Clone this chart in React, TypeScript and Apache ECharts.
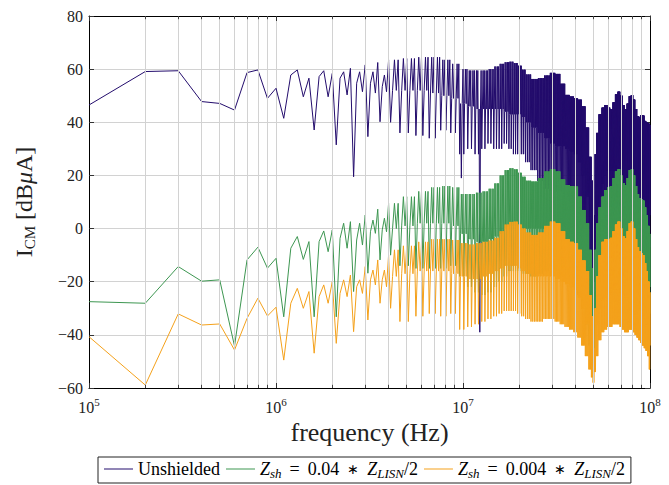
import React, { useEffect, useRef } from 'react';
import * as echarts from 'echarts';

const FONT = '"Liberation Serif", "Times New Roman", serif';
const NAVY = '#230c6c';
const GREEN = '#3d9651';
const ORANGE = '#f4a11b';
const GRID = '#d2d2d2';

// Individually read points, f = 0.1 MHz ... 4.0 MHz (step 0.1 MHz)
const navyLow = [46.5, 59.1, 59.4, 47.8, 47.1, 44.6, 58.7, 59.7, 49.0, 52.8,
  41.5, 57.8, 59.7, 49.6, 56.6, 37.1, 57.2, 59.4, 49.6, 58.4,
  31.5, 56.6, 59.0, 50.3, 60.3, 19.5, 54.7, 59.0, 51.5, 61.6,
  34.6, 54.7, 59.0, 51.0, 62.5, 40.2, 53.4, 57.8, 51.5, 63.5];
const greenLow = [-27.5, -28.1, -14.3, -19.8, -19.3, -44.2, -11.8, -7.0, -14.9, -11.2,
  -33.2, -7.4, -3.0, -11.6, -4.9, -33.2, -4.9, -0.9, -8.7, -0.5,
  -33.2, -3.7, 2.0, -7.4, 2.6, -23.7, -4.3, 2.0, -6.2, 5.1,
  -16.8, -1.2, 3.2, -1.8, 7.3, -11.8, -0.5, 3.9, -1.2, 9.5];
const orangeLow = [-40.7, -58.9, -32.1, -36.3, -35.9, -45.7, -33.8, -26.2, -32.9, -29.6,
  -49.5, -28.1, -22.5, -30.0, -23.7, -46.9, -25.6, -21.2, -28.1, -20.0,
  -43.2, -24.4, -19.3, -25.6, -17.5, -38.8, -21.9, -19.3, -24.4, -14.3,
  -34.4, -19.3, -15.6, -21.2, -11.8, -28.1, -19.3, -15.6, -21.9, -9.9];

// Dense region (> 4 MHz): envelope values read at these frequencies (MHz)
const bpMHz = [4, 5, 6, 7, 8, 9, 10, 11, 12, 13, 14, 15, 16, 17, 18, 19, 20, 21, 22,
  24, 26, 28, 30, 32, 34, 36, 38, 40, 42, 44, 46, 48,
  49, 50, 51, 52,
  54, 56, 58, 60, 62, 64, 66, 68, 70, 72, 74, 76, 78, 80, 82, 84, 86, 88, 90, 92, 94, 96, 98, 100];

const navyUpper = [63.5, 64, 64.5, 64.5, 63.5, 62, 60, 59.5, 59.5, 59.5, 60, 61, 62, 62.6, 62.8, 62.3, 61.3, 59.8, 58,
  56.3, 56.6, 57.6, 58.6, 58.2, 54.5, 50.3, 49.7, 49, 48.5, 46, 38, 27,
  18, 5, 28, 36,
  43, 45.5, 46.5, 45.5, 45, 47.5, 50.5, 51.5, 50, 46.5, 44.8, 47, 49.8, 50.2, 48.5, 45, 42.3, 42, 42.7, 42.5, 40.5, 40, 39.5, 39];
const navyLower = [52, 52, 52, 51, 50, 49, 47, 46, 45, 45, 45, 45, 45, 44, 43, 43, 43, 42, 40,
  38, 36, 34, 32, 31, 31, 30, 29, 28, 25, 20, 12, 0,
  -10, -20, -5, 5,
  12, 17, 20, 22, 22, 22, 22, 23, 22, 20, 19, 20, 21, 20, 18, 16, 14, 13, 13, 12, 12, 10, 8, 5];
const navyDip = [40, 36, 35, 34, 37, 36, 28, 30, 28, 30, 32, 30, 30, 32, 30, 28, 28, 28, 25,
  22, 18, 15, 14, 14, 14, 12, 10, 8, 5, 0, -8, -18,
  -25, -32, -20, -5,
  2, 5, 8, 10, 10, 10, 12, 12, 10, 8, 8, 8, 9, 8, 5, 3, 2, 0, 0, -2, -3, -5, -6, -7];
const navySpikes: [number, number][] = [[98, 19], [123, -39]];

const greenUpper = [9.5, 12, 14, 15.5, 16, 15.5, 13, 13, 13.5, 14, 15, 17, 20, 22, 22.7, 22.3, 21, 19.5, 18,
  17.7, 19, 21.5, 22.3, 21.5, 18.5, 16.4, 16, 15.8, 12, 7, 2, -8,
  -15, -24, -8, 2,
  8, 12, 14.5, 15.5, 16, 19, 21.5, 22.3, 20, 17, 16.4, 19, 22, 22.3, 20, 16, 13, 11.5, 11, 10.5, 8, 5, 1, -2];
const greenLower = [0, 1, 2, 2, 2, 1, -2, -4, -5, -5, -4, -3, -2, 0, 1, 1, 1, 0, 0,
  0, 0, 0, 0, -1, -3, -4, -5, -6, -9, -14, -20, -28,
  -33, -40, -30, -20,
  -12, -8, -6, -5, -5, -5, -4, -4, -5, -7, -8, -8, -7, -7, -8, -10, -12, -13, -14, -15, -16, -18, -20, -22];
const greenDip = [-10, -14, -15, -15, -15, -14, -18, -22, -24, -25, -24, -22, -20, -18, -16, -16, -16, -17, -17,
  -18, -17, -16, -15, -16, -18, -19, -20, -22, -25, -30, -36, -44,
  -48, -52, -45, -35,
  -28, -24, -22, -20, -20, -19, -18, -18, -19, -21, -22, -22, -21, -21, -22, -24, -25, -26, -27, -28, -29, -30, -31, -32];
const greenSpikes: [number, number][] = [];

const orangeUpper = [-8, -6.5, -5, -4, -4, -4.3, -5.5, -6, -5.5, -5, -4.5, -3.5, -1, 1.5, 2.5, 2.6, 1.5, 0, -1.5,
  -2.4, -1.5, 1, 2.6, 2, -1, -4, -5, -5.5, -8, -12, -16, -25,
  -33, -45, -30, -18,
  -10, -5, -4, -4, -3.5, -1, 1.5, 2.6, 0, -3, -3.7, -1, 2, 2.6, 0, -4, -7, -8.5, -9.3, -10, -13, -16, -20, -24];
const orangeLower = [-18, -17, -16, -16, -16, -17, -18, -19, -19, -18, -17, -16, -15, -14, -14, -14, -15, -16, -17,
  -18, -18, -18, -18, -19, -20, -21, -22, -23, -26, -30, -36, -42,
  -48, -52, -45, -36,
  -30, -27, -26, -25, -24, -23, -23, -23, -24, -25, -26, -26, -25, -25, -26, -28, -29, -30, -31, -32, -34, -36, -40, -44];
const orangeDip = [-30, -35, -33, -32, -33, -32, -38, -37, -36, -35, -34, -33, -32, -31, -31, -31, -32, -33, -34,
  -35, -35, -34, -34, -35, -36, -37, -38, -39, -41, -44, -48, -53,
  -56, -58, -54, -48,
  -42, -39, -38, -37, -37, -36, -36, -36, -37, -38, -39, -39, -38, -38, -39, -40, -41, -42, -43, -44, -45, -46, -48, -53];
const orangeSpikes: [number, number][] = [];

const yTicks = [-60, -40, -20, 0, 20, 40, 60, 80];
const decades = [1e5, 1e6, 1e7];
const minorMult = [2, 3, 4, 5, 6, 7, 8, 9];

const seriesNames = ['Unshielded', 'Zsh = 0.04*ZLISN/2', 'Zsh = 0.004*ZLISN/2'];

function buildSeries(explicit: number[], upper: number[], lower: number[], dip: number[], spikes: [number, number][]) {
  const pts: [number, number][] = [];
  for (let i = 1; i <= 1000; i++) {
    const f = i * 1e5;
    let v: number;
    if (i <= explicit.length) {
      v = explicit[i - 1];
    } else {
      const mhz = i / 10;
      let k = 0;
      let best = Infinity;
      bpMHz.forEach((b, j) => {
        const d = Math.abs(b - mhz);
        if (d < best) { best = d; k = j; }
      });
      const phase = i % 5;
      v = phase === 1 ? dip[k] : (phase === 0 || phase === 3) ? upper[k] : lower[k];
    }
    pts.push([f, v]);
  }
  spikes.forEach(([i, v]) => { pts[i - 1] = [i * 1e5, v]; });
  return pts;
}

export default function App() {
  const ref = useRef<HTMLDivElement>(null);
  useEffect(() => {
    if (!ref.current) return;
    const chart = echarts.init(ref.current, undefined, { renderer: 'svg' });
    const minorX: number[] = [];
    decades.forEach((d) => minorMult.forEach((m) => minorX.push(d * m)));
    const yMin = yTicks[0];
    const yMax = yTicks[yTicks.length - 1];
    const tickLen = 1.2;
    const tickData: any[] = [];
    minorX.forEach((v) => {
      tickData.push([{ coord: [v, yMin] }, { coord: [v, yMin + tickLen] }]);
      tickData.push([{ coord: [v, yMax] }, { coord: [v, yMax - tickLen] }]);
    });
    const mkLine = (name: string, data: [number, number][], color: string) => ({
      type: 'line', name, data, symbol: 'none', showSymbol: false, clip: true,
      lineStyle: { color, width: 1 }, itemStyle: { color }, z: 2, silent: true,
    });
    const legendRich = {
      n: { fontFamily: FONT, fontSize: 18, color: '#000', lineHeight: 22 },
      i: { fontFamily: FONT, fontSize: 18, fontStyle: 'italic', color: '#000', lineHeight: 22 },
      op: { fontFamily: FONT, fontSize: 18, color: '#000', lineHeight: 22, padding: [0, 8, 0, 8] },
      ast: { fontFamily: FONT, fontSize: 14, color: '#000', lineHeight: 22, padding: [0, 8, 0, 8] },
      sub: { fontFamily: FONT, fontSize: 13, fontStyle: 'italic', color: '#000', lineHeight: 14, verticalAlign: 'bottom' },
    };
    const option: any = {
      animation: false,
      backgroundColor: '#fff',
      grid: { left: 89, right: 19, top: 16, bottom: 97, containLabel: false },
      xAxis: [
        {
          type: 'log', logBase: 10, min: 1e5, max: 1e8,
          name: 'frequency (Hz)', nameLocation: 'middle', nameGap: 29,
          nameTextStyle: { fontFamily: FONT, fontSize: 26, color: '#222' },
          axisLine: { show: true, onZero: false, lineStyle: { color: '#000', width: 1 } },
          axisTick: { show: true, inside: true, length: 5, lineStyle: { color: '#333' } },
          axisLabel: {
            show: true, margin: 8, showMinLabel: true, showMaxLabel: true, hideOverlap: false,
            formatter: (v: number) => `{b|10}{s|${Math.round(Math.log10(v))}}`,
            rich: {
              b: { fontFamily: FONT, fontSize: 16, color: '#222', lineHeight: 22 },
              s: { fontFamily: FONT, fontSize: 11, color: '#222', lineHeight: 12, verticalAlign: 'top' },
            },
          },
          splitLine: { show: true, lineStyle: { color: GRID, width: 1 } },
          minorTick: { show: false }, minorSplitLine: { show: false },
        },
        {
          type: 'log', logBase: 10, min: 1e5, max: 1e8, position: 'top',
          axisLine: { show: true, onZero: false, lineStyle: { color: '#000', width: 1 } },
          axisTick: { show: true, inside: true, length: 5, lineStyle: { color: '#333' } },
          axisLabel: { show: false }, splitLine: { show: false },
        },
      ],
      yAxis: [
        {
          type: 'value', min: yMin, max: yMax, interval: 20,
          name: '{r|I}{c|CM}{r| [dB}{m|μ}{r|A]}', nameLocation: 'middle', nameGap: 52, nameRotate: 90,
          nameTextStyle: {
            rich: {
              r: { fontFamily: FONT, fontSize: 24, color: '#222', lineHeight: 26 },
              m: { fontFamily: FONT, fontSize: 24, fontStyle: 'italic', color: '#222', lineHeight: 26 },
              c: { fontFamily: FONT, fontSize: 15, color: '#222', lineHeight: 14, verticalAlign: 'bottom' },
            },
          },
          axisLine: { show: true, onZero: false, lineStyle: { color: '#000', width: 1 } },
          axisTick: { show: true, inside: true, length: 5, lineStyle: { color: '#333' } },
          axisLabel: {
            margin: 6, fontFamily: FONT, fontSize: 16, color: '#222',
            formatter: (v: number) => String(v).replace('-', '\u2212'),
          },
          splitLine: { show: true, lineStyle: { color: GRID, width: 1 } },
        },
        {
          type: 'value', min: yMin, max: yMax, interval: 20, position: 'right',
          axisLine: { show: true, onZero: false, lineStyle: { color: '#000', width: 1 } },
          axisTick: { show: true, inside: true, length: 5, lineStyle: { color: '#333' } },
          axisLabel: { show: false }, splitLine: { show: false },
        },
      ],
      legend: {
        data: seriesNames,
        bottom: 2, left: 98,
        orient: 'horizontal',
        icon: 'rect',
        itemWidth: 29, itemHeight: 1, itemGap: 6,
        padding: [3, 6, 3, 6],
        borderColor: '#222', borderWidth: 1, borderRadius: 0,
        selectedMode: false,
        formatter: (name: string) => {
          if (name === seriesNames[0]) return '{n|Unshielded}';
          if (name === seriesNames[1]) return '{i|Z}{sub|sh}{op|=}{n|0.04}{ast|\u2217}{i|Z}{sub|LISN}{n|/2}';
          return '{i|Z}{sub|sh}{op|=}{n|0.004}{ast|\u2217}{i|Z}{sub|LISN}{n|/2}';
        },
        textStyle: { rich: legendRich },
      },
      series: [
        {
          type: 'line', name: '__grid', data: [], z: 1, silent: true,
          markLine: {
            silent: true, symbol: ['none', 'none'], label: { show: false },
            lineStyle: { color: GRID, width: 1, type: 'solid' },
            data: minorX.map((v) => ({ xAxis: v })),
          },
        },
        {
          type: 'line', name: '__ticks', data: [], z: 3, silent: true,
          markLine: {
            silent: true, symbol: ['none', 'none'], label: { show: false },
            lineStyle: { color: '#444', width: 1, type: 'solid' },
            data: tickData,
          },
        },
        mkLine(seriesNames[0], buildSeries(navyLow, navyUpper, navyLower, navyDip, navySpikes), NAVY),
        mkLine(seriesNames[1], buildSeries(greenLow, greenUpper, greenLower, greenDip, greenSpikes), GREEN),
        mkLine(seriesNames[2], buildSeries(orangeLow, orangeUpper, orangeLower, orangeDip, orangeSpikes), ORANGE),
      ],
    };
    chart.setOption(option);
    return () => chart.dispose();
  }, []);
  return (
    <div
      ref={ref}
      style={{ position: 'fixed', left: 0, top: 0, width: 669, height: 485, background: '#fff' }}
    />
  );
}
